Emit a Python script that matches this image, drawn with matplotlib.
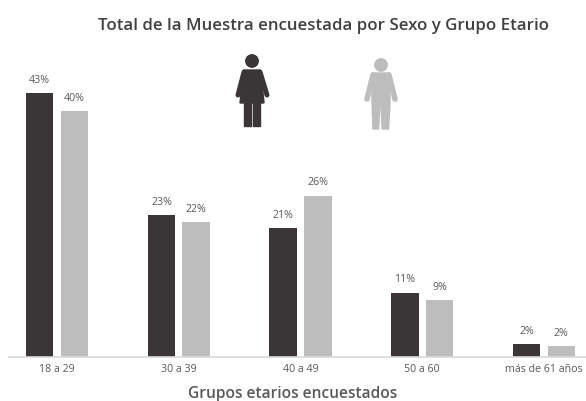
import matplotlib
matplotlib.use('Agg')
import matplotlib.pyplot as plt
from matplotlib.patches import Circle, Polygon, Rectangle
import numpy as np

grupos = ['18 a 29', '30 a 39', '40 a 49', '50 a 60', 'más de 61 años']
mujeres = [43, 23.1, 21, 10.5, 2.1]
hombres = [40, 22, 26.3, 9.3, 1.8]
etiq_mujeres = ['43%', '23%', '21%', '11%', '2%']
etiq_hombres = ['40%', '22%', '26%', '9%', '2%']

OSCURO = '#3a3637'
CLARO = '#bdbdbd'
TEXTO = '#595959'

W, H = 586, 402
fig = plt.figure(figsize=(W / 100, H / 100), dpi=100)

# ejes principales, colocados en pixeles de la imagen
ax = fig.add_axes([9 / W, 1 - 358 / H, (W - 9) / W, (358 - 60) / H])
x = np.arange(len(grupos))
ancho = 0.226
sep = 0.142
b1 = ax.bar(x - sep, mujeres, ancho, color=OSCURO)
b2 = ax.bar(x + sep, hombres, ancho, color=CLARO)

ax.set_xlim(-0.394, 4.345)
ax.set_ylim(0, 298 / 6.14)
ax.bar_label(b1, labels=etiq_mujeres, padding=6, fontsize=7.7, color=TEXTO, family='Open Sans')
ax.bar_label(b2, labels=etiq_hombres, padding=6, fontsize=7.7, color=TEXTO, family='Open Sans')

ax.set_xticks(x)
ax.set_xticklabels(grupos, fontsize=7.7, color=TEXTO, family='Open Sans')
ax.tick_params(axis='x', length=0, pad=4.5)
ax.set_yticks([])
for lado in ['top', 'left', 'right']:
    ax.spines[lado].set_visible(False)
ax.spines['bottom'].set_color('#d9d9d9')
ax.spines['bottom'].set_linewidth(1.2)

fig.text(324 / W, 1 - 26 / H, 'Total de la Muestra encuestada por Sexo y Grupo Etario',
         ha='center', va='center', fontsize=12.2, fontweight='semibold', color='#404040', family='Open Sans')
fig.text(293 / W, 1 - 394 / H, 'Grupos etarios encuestados',
         ha='center', va='center', fontsize=11.2, fontweight='semibold', color='#595959', family='Open Sans')

# capa de pixeles para las figuras de mujer y hombre
capa = fig.add_axes([0, 0, 1, 1])
capa.set_xlim(0, W)
capa.set_ylim(H, 0)
capa.axis('off')
capa.patch.set_alpha(0)


def brazo(x0, y0, x1, y1, color, grosor):
    capa.plot([x0, x1], [y0, y1], color=color, lw=grosor, solid_capstyle='round')


# mujer
capa.add_patch(Circle((252, 62), 6.2, color=OSCURO))
capa.add_patch(Polygon([(244, 71), (260, 71), (262, 84), (264, 104), (240, 104), (242, 84)],
                       closed=True, color=OSCURO))
brazo(244, 73, 238, 96, OSCURO, 3.6)
brazo(260, 73, 267, 96, OSCURO, 3.6)
capa.add_patch(Rectangle((244, 104), 7, 23, color=OSCURO))
capa.add_patch(Rectangle((253, 104), 7, 23, color=OSCURO))

# hombre
capa.add_patch(Circle((381, 66), 6.2, color=CLARO))
capa.add_patch(Polygon([(372, 74), (390, 74), (390, 104), (388.5, 130), (382.2, 130), (381, 106),
                        (379.8, 106), (378.6, 130), (373, 130), (372, 104)],
                       closed=True, color=CLARO))
brazo(373, 76, 367, 100, CLARO, 4)
brazo(389, 76, 395, 100, CLARO, 4)

fig.savefig('out.png', dpi=100)
